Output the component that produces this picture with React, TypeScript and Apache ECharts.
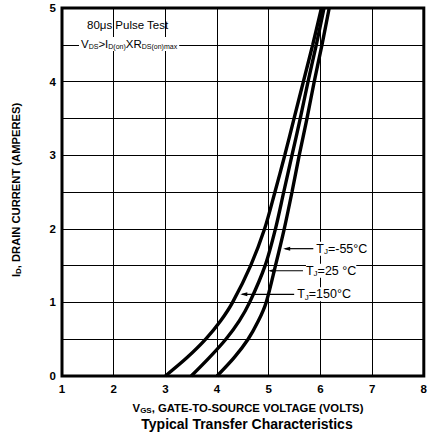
import React, { useEffect, useRef } from "react";
import * as echarts from "echarts";

// Drain current levels (A) shared by the three curves
const ID_LEVELS = [0, 0.25, 0.5, 0.75, 1, 1.5, 2, 2.5, 3, 3.5, 4, 4.5, 5];
// Gate-source voltage (V) at each current level, per junction temperature
const VGS_150 = [3.0, 3.42, 3.78, 4.07, 4.3, 4.65, 4.92, 5.12, 5.31, 5.49, 5.67, 5.85, 6.02];
const VGS_25 = [3.5, 3.85, 4.17, 4.43, 4.63, 4.93, 5.13, 5.29, 5.45, 5.61, 5.76, 5.92, 6.07];
const VGS_M55 = [4.0, 4.33, 4.6, 4.8, 4.95, 5.13, 5.3, 5.45, 5.59, 5.74, 5.88, 6.03, 6.17];

const X_TICKS = [1, 2, 3, 4, 5, 6, 7, 8];
const Y_TICKS = [0, 1, 2, 3, 4, 5];

// Annotation: label, pointer tip [V, A], text start V
const ANNOTATIONS = [
  { t: "-55°C", tip: [5.26, 1.73], textV: 5.92 },
  { t: "25 °C", tip: [4.97, 1.43], textV: 5.72 },
  { t: "150°C", tip: [4.43, 1.11], textV: 5.55 },
];

const FONT = "'Liberation Sans', Arial, Helvetica, sans-serif";

const zip = (xs: number[]) => xs.map((v, i) => [v, ID_LEVELS[i]]);

export default function App() {
  const ref = useRef<HTMLDivElement>(null);
  useEffect(() => {
    document.body.style.margin = "0";
    const chart = echarts.init(ref.current!, undefined, { renderer: "svg" });
    const lineSeries = (name: string, xs: number[]) => ({
      name,
      type: "line",
      data: zip(xs),
      smooth: 0.3,
      symbol: "none",
      lineStyle: { color: "#000", width: 3.4 },
      z: 5,
    });
    chart.setOption({
      animation: false,
      backgroundColor: "#fff",
      grid: {
        left: 62,
        right: 5,
        top: 8,
        bottom: 59,
        show: true,
        borderColor: "#000",
        borderWidth: 3,
        backgroundColor: "transparent",
      },
      xAxis: {
        type: "value",
        min: X_TICKS[0],
        max: X_TICKS[X_TICKS.length - 1],
        interval: 1,
        axisLine: { show: false },
        axisTick: { show: false },
        splitLine: { show: true, lineStyle: { color: "#000", width: 1 } },
        axisLabel: {
          color: "#000",
          fontFamily: FONT,
          fontWeight: "bold",
          fontSize: 11.5,
          margin: 7,
        },
      },
      yAxis: {
        type: "value",
        min: 0,
        max: Y_TICKS[Y_TICKS.length - 1],
        interval: 0.5,
        axisLine: { show: false },
        axisTick: { show: false },
        splitLine: { show: true, lineStyle: { color: "#000", width: 1 } },
        axisLabel: {
          color: "#000",
          fontFamily: FONT,
          fontWeight: "bold",
          fontSize: 11.5,
          margin: 6,
          formatter: (v: number) => (Y_TICKS.includes(v) ? String(v) : ""),
        },
      },
      series: [
        lineSeries("150", VGS_150),
        lineSeries("25", VGS_25),
        lineSeries("-55", VGS_M55),
      ],
    });

    const px = (p: number[]) => chart.convertToPixel({ gridIndex: 0 }, p) as number[];
    const graphics: any[] = [];
    ANNOTATIONS.forEach((a) => {
      const tip = px(a.tip);
      const ts = px([a.textV, a.tip[1]]);
      graphics.push({
        type: "line",
        shape: { x1: tip[0] + 3, y1: tip[1], x2: ts[0] - 3, y2: tip[1] },
        style: { stroke: "#000", lineWidth: 1.2 },
        z: 10,
      });
      graphics.push({
        type: "polygon",
        shape: {
          points: [
            [tip[0] + 1, tip[1]],
            [tip[0] + 8, tip[1] - 2],
            [tip[0] + 8, tip[1] + 2],
          ],
        },
        style: { fill: "#000" },
        z: 10,
      });
      graphics.push({
        type: "text",
        x: ts[0],
        y: tip[1],
        style: {
          rich: {
            m: { fontFamily: FONT, fontSize: 12.5, fill: "#000" },
            s: { fontFamily: FONT, fontSize: 8, fill: "#000", verticalAlign: "bottom", padding: [6, 0, 0, 0] },
          },
          text: "{m|T}{s|J}{m|=" + a.t + "}",
          verticalAlign: "middle",
          backgroundColor: "#fff",
        },
        z: 10,
      });
    });
    // inset notes
    graphics.push({
      type: "text",
      x: 87,
      y: 25,
      style: {
        text: "80μs Pulse Test",
        fontFamily: FONT,
        fontSize: 11.5,
        fill: "#000",
        verticalAlign: "middle",
      },
      z: 10,
    });
    graphics.push({
      type: "text",
      x: 79,
      y: 44,
      style: {
        rich: {
          m: { fontFamily: FONT, fontSize: 11.5, fill: "#000" },
          s: { fontFamily: FONT, fontSize: 7, fill: "#000", padding: [4, 0, 0, 0] },
        },
        text: "{m|V}{s|DS}{m|>I}{s|D(on)}{m|XR}{s|DS(on)max}",
        verticalAlign: "middle",
        backgroundColor: "#fff",
        padding: [1, 2, 1, 2],
      },
      z: 10,
    });
    // axis titles
    graphics.push({
      type: "text",
      x: 16,
      y: 190,
      rotation: Math.PI / 2,
      style: {
        rich: {
          m: { fontFamily: FONT, fontSize: 11.2, fontWeight: "bold", fill: "#000" },
          s: { fontFamily: FONT, fontSize: 8, fontWeight: "bold", fill: "#000", padding: [5, 0, 0, 0] },
        },
        text: "{m|I}{s|D}{m|, DRAIN CURRENT (AMPERES)}",
        align: "center",
        verticalAlign: "middle",
      },
    });
    graphics.push({
      type: "text",
      x: 248,
      y: 408,
      style: {
        rich: {
          m: { fontFamily: FONT, fontSize: 11.3, fontWeight: "bold", fill: "#000" },
          s: { fontFamily: FONT, fontSize: 8, fontWeight: "bold", fill: "#000", padding: [5, 0, 0, 0] },
        },
        text: "{m|V}{s|GS}{m|, GATE-TO-SOURCE VOLTAGE (VOLTS)}",
        align: "center",
        verticalAlign: "middle",
      },
    });
    graphics.push({
      type: "text",
      x: 247,
      y: 424,
      style: {
        text: "Typical Transfer Characteristics",
        fontFamily: FONT,
        fontSize: 14,
        fontWeight: "bold",
        fill: "#000",
        align: "center",
        verticalAlign: "middle",
      },
    });
    chart.setOption({ graphic: graphics });
    return () => chart.dispose();
  }, []);
  return <div ref={ref} style={{ width: 430, height: 435 }} />;
}
